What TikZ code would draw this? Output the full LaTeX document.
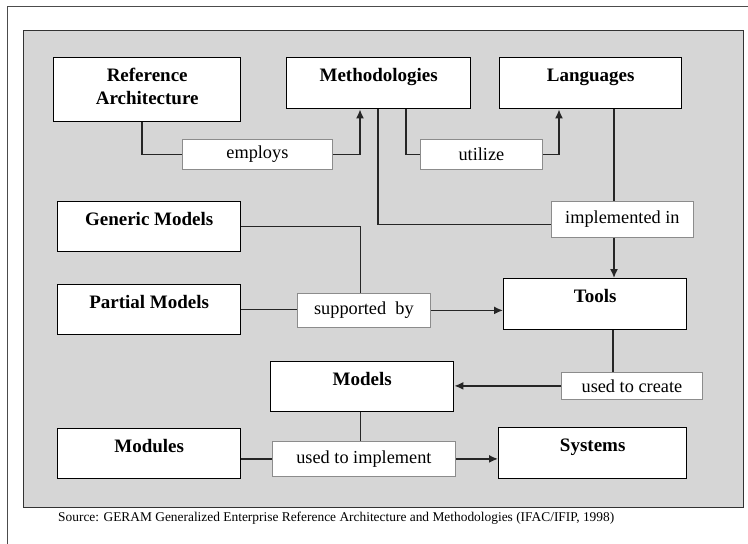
\documentclass[tikz,border=0pt]{standalone}
\usepackage{fontspec}
\setmainfont{Liberation Serif}
\usetikzlibrary{arrows.meta}
\definecolor{panel}{HTML}{D6D6D6}
\begin{document}
\begin{tikzpicture}[x=1pt,y=-1pt,
  box/.style={draw=black, line width=1.4pt, fill=white, anchor=north west,
    inner sep=0pt, align=center, text height=24pt,
    font=\fontsize{19}{23}\selectfont\bfseries},
  tag/.style={draw=black!45, line width=0.8pt, fill=white, anchor=north west,
    inner sep=0pt, font=\fontsize{18.3}{20}\selectfont},
  link/.style={draw=black!85, line width=1.5pt},
  arr/.style={link, -{Latex[length=9pt,width=8pt]}}]
\useasboundingbox (0,0) rectangle (748,544);
\fill[white] (0,0) rectangle (748,544);
% page frame and shaded panel
\draw[black!70, line width=0.8pt] (7,544) -- (7,6) -- (748,6);
\draw[black!80, line width=0.8pt, fill=panel] (23,30) rectangle (743,507);

% main blocks
\node[box, minimum width=187pt, text height=47pt, text depth=17pt] (ra) at (53,57) {Reference\\Architecture};
\node[box, minimum width=184pt, text depth=27pt] (meth) at (286,57) {Methodologies};
\node[box, minimum width=182pt, text depth=27pt] (lang) at (499,57) {Languages};
\node[box, minimum width=183pt, text depth=26pt] (gen) at (57,201) {Generic Models};
\node[box, minimum width=183pt, text depth=26pt] (part) at (57,284) {Partial Models};
\node[box, minimum width=183pt, text depth=27pt] (tools) at (503,278) {Tools};
\node[box, minimum width=183pt, text depth=26pt] (models) at (270,361) {Models};
\node[box, minimum width=183pt, text depth=26pt] (mods) at (57,428) {Modules};
\node[box, minimum width=188pt, text depth=27pt] (sys) at (498,427) {Systems};

% relation labels
\node[tag, minimum width=150pt, minimum height=30pt] (emp) at (182,139) {employs};
\node[tag, minimum width=122pt, minimum height=30pt] (util) at (420,139) {utilize};
\node[tag, minimum width=142pt, minimum height=36pt] (impl) at (551,201) {implemented in};
\node[tag, minimum width=133pt, minimum height=34pt] (sup) at (297,293) {supported\ \ by};
\node[tag, minimum width=141pt, minimum height=27pt] (uc) at (561,372) {used to create};
\node[tag, minimum width=183pt, minimum height=35pt] (ui) at (272,441) {used to implement};

% connectors
\draw[link] ([xshift=89pt]ra.south west) |- (emp.west);
\draw[arr] (emp.east) -| ([xshift=74pt]meth.south west);
\draw[link] ([xshift=120pt]meth.south west) |- (util.west);
\draw[arr] (util.east) -| ([xshift=60pt]lang.south west);
\draw[link] ([xshift=92pt]meth.south west) |- ([yshift=-5pt]impl.west);
\coordinate (lx) at ([xshift=115pt]lang.south west);
\draw[link] (lx) -- (lx |- impl.north);
\draw[arr] (lx |- impl.south) -- (lx |- tools.north);
\draw[link] (gen.east) -| ([xshift=-3.5pt]sup.north);
\draw[link] (part.east) -- (part.east -| sup.west);
\draw[arr] (sup.east) -- (sup.east -| tools.west);
\draw[link] ([xshift=110pt]tools.south west) -- ([xshift=110pt]tools.south west |- uc.north);
\draw[arr] (uc.west) -- (uc.west -| models.east);
\draw[link] ([xshift=-1.5pt]models.south) -- ([xshift=-1.5pt]models.south |- ui.north);
\draw[link] (ui.west -| mods.east) -- (ui.west);
\draw[arr] (ui.east) -- (ui.east -| sys.west);

% source line
\node[anchor=base west, inner sep=0pt, font=\fontsize{13.4}{15}\selectfont] (src) at (58,521)
  {Source: GERAM Generalized Enterprise Reference Architecture and Methodologies (IFAC/IFIP, 1998)};
\end{tikzpicture}
\end{document}
